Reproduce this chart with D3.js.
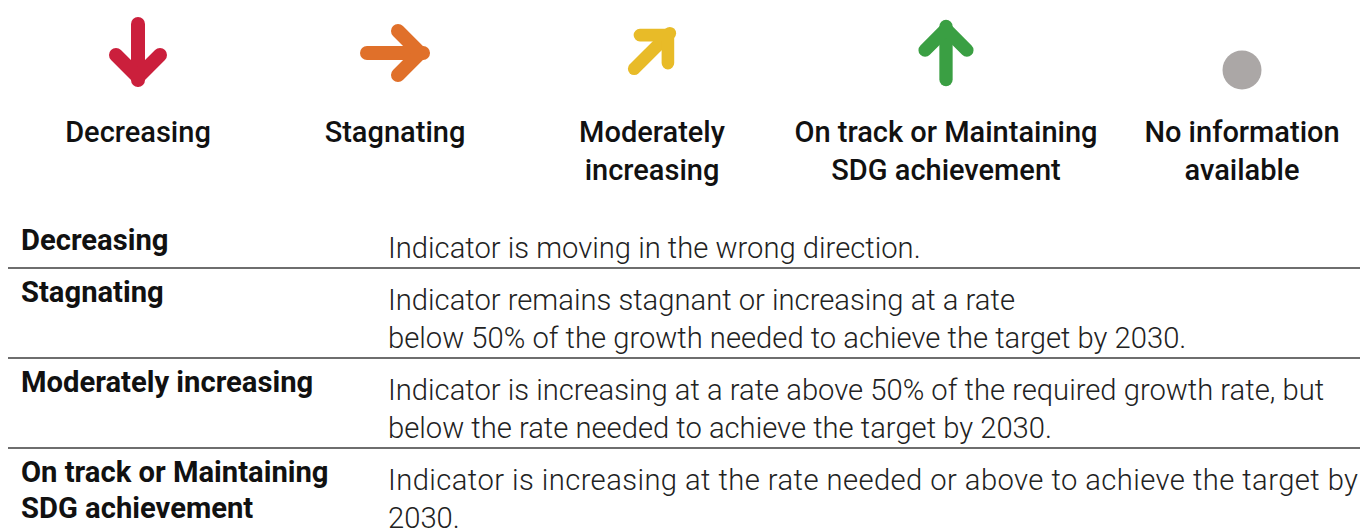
<!DOCTYPE html>
<html><head><meta charset="utf-8">
<script src="https://cdn.jsdelivr.net/npm/d3@7"></script>
<style>
html,body{margin:0;padding:0;background:#fff;}
svg{display:block;}
</style></head>
<body>
<svg id="c" width="1360" height="529"></svg>
<script>
// ---- data ----
const categories = ["Decreasing","Stagnating","Moderately increasing","On track or Maintaining SDG achievement","No information available"];
const iconLabels = [["Decreasing"],["Stagnating"],["Moderately","increasing"],["On track or Maintaining","SDG achievement"],["No information","available"]];
const iconTypes = ["down","right","diag","up","dot"];
const iconColors = ["#CB1F3C","#E0702A","#E8BB28","#3A9F43","#ABA7A6"];
const tableLabels = [["Decreasing"],["Stagnating"],["Moderately increasing"],["On track or Maintaining","SDG achievement"]];
const tableDescs = [
  ["Indicator is moving in the wrong direction."],
  ["Indicator remains stagnant or increasing at a rate","below 50% of the growth needed to achieve the target by 2030."],
  ["Indicator is increasing at a rate above 50% of the required growth rate, but","below the rate needed to achieve the target by 2030."],
  ["Indicator is increasing at the rate needed or above to achieve the target by","2030."]
];
const justified = [[false],[false,false],[false,false],[true,false]];
const rowLines = [216, 268, 358, 448];

// ---- layout ----
const svg = d3.select("#c");
const xPos = [138,395,652,946,1242];

const arrowAngle = {down:90, right:0, up:-90, diag:-45};
const arrowScale = {down:1, right:1, up:0.95, diag:0.9};
const iconCY = [52,53,51,53,70];

const icons = svg.append("g");
categories.forEach((c,i)=>{
  const g = icons.append("g").attr("transform",`translate(${xPos[i]},${iconCY[i]})`);
  const t = iconTypes[i];
  if(t==="dot"){
    g.append("circle").attr("r",19.5).attr("fill",iconColors[i]);
  } else {
    const a = g.append("g").attr("transform",`rotate(${arrowAngle[t]}) scale(${arrowScale[t]})`);
    const s = d3.path();
    s.moveTo(-28,0); s.lineTo(28,0);
    a.append("path").attr("d",s.toString()).attr("stroke",iconColors[i]).attr("stroke-width",14)
      .attr("stroke-linecap","round").attr("fill","none");
    const h = d3.path();
    h.moveTo(3,-22); h.lineTo(25,0); h.lineTo(3,22);
    a.append("path").attr("d",h.toString()).attr("stroke",iconColors[i]).attr("stroke-width",14)
      .attr("stroke-linecap","round").attr("stroke-linejoin","miter").attr("stroke-miterlimit",4).attr("fill","none");
  }
  const txt = g.append("text").attr("text-anchor","middle")
    .attr("font-family","Roboto, sans-serif").attr("font-weight",500).attr("font-size",29).attr("fill","#111");
  iconLabels[i].forEach((ln,j)=>{
    txt.append("tspan").attr("x",0).attr("y",142-iconCY[i]+j*38).text(ln);
  });
});

// table
const tbl = svg.append("g");
rowLines.slice(1).forEach(y=>{
  tbl.append("line").attr("x1",8).attr("x2",1360).attr("y1",y).attr("y2",y)
    .attr("stroke","#6e6e6e").attr("stroke-width",2);
});
tableLabels.forEach((lab,i)=>{
  const base = rowLines[i] + 34;
  const t = tbl.append("text").attr("font-family","Roboto, sans-serif").attr("font-weight",700)
    .attr("font-size",29.2).attr("fill","#111");
  lab.forEach((ln,j)=> t.append("tspan").attr("x",21).attr("y",base + j*36).text(ln));
  tableDescs[i].forEach((ln,j)=>{
    const d = tbl.append("text").attr("font-family","Roboto, sans-serif").attr("font-weight",300)
      .attr("font-size",29.2).attr("fill","#222").attr("x",388).attr("y",base+8+j*38).text(ln);
    if(justified[i][j]) d.attr("textLength",1358-388).attr("lengthAdjust","spacing");
  });
});
</script>
</body></html>
